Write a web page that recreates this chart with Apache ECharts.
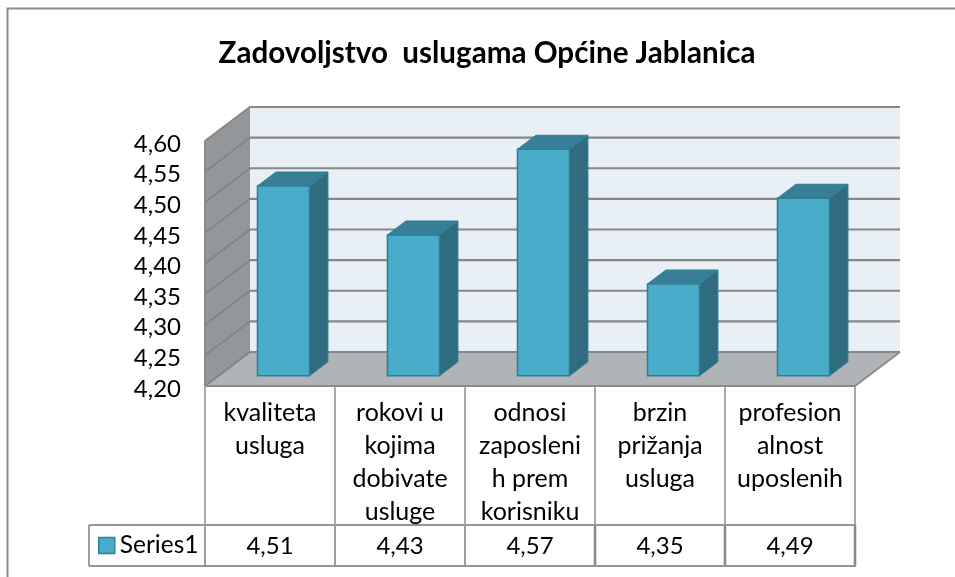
<!DOCTYPE html>
<html><head><meta charset="utf-8">
<style>html,body{margin:0;padding:0;background:#fff}#c{width:955px;height:577px}</style>
<script src="https://cdn.jsdelivr.net/npm/echarts@6/dist/echarts.min.js"></script>
</head><body><div id="c"></div>
<script>
const titleText = 'Zadovoljstvo  uslugama Općine Jablanica';
const seriesName = 'Series1';
const categories = ['kvaliteta\nusluga','rokovi u\nkojima\ndobivate\nusluge','odnosi\nzaposleni\nh prem\nkorisniku','brzin\nprižanja\nusluga','profesion\nalnost\nuposlenih'];
const values = [4.51,4.43,4.57,4.35,4.49];
const yTicks = [4.20,4.25,4.30,4.35,4.40,4.45,4.50,4.55,4.60];
const FONT = 'Lato, Carlito, "Open Sans", sans-serif';
const fmt = v => v.toFixed(2).replace('.', ',');

const DX = 45, DY = -34;           // depth vector of the floor
const D0 = 0.30, D1 = 0.71;        // bar depth range
const BAND = 0.40;                 // bar width as share of a category (front)
const TABLE_MID = 525, TABLE_BOT = 566, LEGEND_L = 89;

const chart = echarts.init(document.getElementById('c'));

function shift(p, d){ return [p[0] + DX*d, p[1] + DY*d]; }
function poly(pts, fill, stroke, w){
  return {type:'polygon', shape:{points:pts}, style:{fill:fill, stroke:stroke||null, lineWidth:w||0}};
}
function line(a,b,c,w){
  return {type:'line', shape:{x1:a[0],y1:a[1],x2:b[0],y2:b[1]}, style:{stroke:c,lineWidth:w}};
}

const wallsData = [0];
function renderWalls(params, api){
  const g = params.coordSys;
  const L = g.x, R = g.x + g.width;
  const yb = api.coord([0, yTicks[0]])[1], yt = api.coord([0, yTicks[yTicks.length-1]])[1];
  const ch = [];
  const FL=[L,yb], FR=[R,yb], TL=[L,yt];
  const BL=shift(FL,1), BR=shift(FR,1), TBL=shift(TL,1);
  ch.push(poly([TBL,[BR[0],TBL[1]],BR,BL],'#e8eff5'));
  ch.push(poly([FL,FR,BR,BL],'#b0b4b7'));
  ch.push(poly([FL,TL,TBL,BL],'#94979a'));
  yTicks.forEach(t=>{
    const y = api.coord([0,t])[1];
    ch.push(line([L,y],shift([L,y],1),'#808386',1.6));
    const by = shift([L,y],1);
    ch.push(line(by,[BR[0],by[1]],'#878787',2.2));
  });
  ch.push(line(FL,FR,'#8b8b8b',2));
  ch.push(line(FR,BR,'#8b8b8b',2));
  ch.push(line(FL,TL,'#8b8b8b',2));
  ch.push(line(TL,shift(TL,1),'#8b8b8b',1.6));
  return {type:'group',children:ch};
}

function renderBar(params, api){
  const i = api.value(0), v = api.value(1);
  const cw = api.size([1,0])[0];
  const c = api.coord([i, yTicks[0]]);
  const top0 = api.coord([i, v])[1];
  const hw = cw*BAND/2;
  const x0 = c[0]-hw, x1 = c[0]+hw, yb = c[1];
  const A = shift([x0,yb],D0), B = shift([x1,yb],D0), C = shift([x1,top0],D0), E = shift([x0,top0],D0);
  const dd = D1-D0;
  const B2 = shift(B,dd), C2 = shift(C,dd), E2 = shift(E,dd);
  const edge='#2f7f97';
  return {type:'group',children:[
    poly([B,C,C2,B2],'#2f6c7f',edge,1),
    poly([E,C,C2,E2],'#367f97',edge,1),
    poly([A,B,C,E],'#49acc9',edge,1.6)
  ]};
}

function renderTable(params, api){
  const g = params.coordSys;
  const L = g.x, R = g.x+g.width, yb = g.y+g.height;
  const cw = g.width/categories.length;
  const col='#959595', ch=[];
  for(let i=0;i<=categories.length;i++){
    const x=L+i*cw;
    ch.push(line([x,yb],[x,TABLE_MID],col,1.6));
    ch.push(line([x,TABLE_MID],[x,TABLE_BOT],i>=3?'#8a8a8a':col,i>=3?2.6:1.8));
  }
  ch.push(line([LEGEND_L,TABLE_MID],[R+1,TABLE_MID],col,2));
  ch.push(line([LEGEND_L,TABLE_BOT],[R+1,TABLE_BOT],col,2));
  ch.push(line([LEGEND_L,TABLE_MID],[LEGEND_L,TABLE_BOT],col,1.8));
  return {type:'group',children:ch};
}

function renderValues(params, api){
  const i = api.value(0), v = api.value(1);
  const x = api.coord([i, yTicks[0]])[0];
  return {type:'text',style:{text:fmt(v),x:x,y:(TABLE_MID+TABLE_BOT)/2+1,align:'center',verticalAlign:'middle',font:'24px '+FONT,fill:'#000'}};
}

chart.setOption({
  animation:false,
  backgroundColor:'#fff',
  title:{text:titleText,left:482,top:33,textAlign:'center',textStyle:{fontFamily:FONT,fontSize:29.6,fontWeight:'bold',color:'#000'}},
  legend:{data:[{name:seriesName,icon:'rect'}],left:93,top:528,itemWidth:16,itemHeight:16,itemGap:5,padding:[5,5,5,5],
    textStyle:{fontFamily:FONT,fontSize:24.5,color:'#000'},
    itemStyle:{color:'#49acc9',borderColor:'#2f7f97',borderWidth:1.5}},
  grid:{left:205,top:141,width:650,height:245},
  xAxis:{type:'category',data:categories,
    axisLine:{show:false},axisTick:{show:false},
    axisLabel:{interval:0,margin:10,lineHeight:33,fontFamily:FONT,fontSize:25,color:'#000',verticalAlign:'top'}},
  yAxis:{type:'value',min:4.2,max:4.6,interval:0.05,
    axisLine:{show:false},axisTick:{show:false},splitLine:{show:false},
    axisLabel:{margin:24,verticalAlign:'top',lineHeight:6,fontFamily:FONT,fontSize:24,color:'#000',formatter:v=>fmt(v)}},
  series:[
    {type:'custom',silent:true,coordinateSystem:'cartesian2d',renderItem:renderWalls,data:wallsData,encode:{x:0,y:0},z:1,clip:false},
    {type:'custom',silent:true,renderItem:renderTable,data:wallsData,z:1,clip:false,encode:{x:0,y:0}},
    {name:seriesName,type:'custom',renderItem:renderBar,data:values.map((v,i)=>[i,v]),encode:{x:0,y:1},z:3,clip:false,itemStyle:{color:'#49acc9'}},
    {type:'custom',silent:true,renderItem:renderValues,data:values.map((v,i)=>[i,v]),encode:{x:0,y:1},z:4,clip:false}
  ],
  graphic:[
    {type:'polyline',z:0,shape:{points:[[7.5,577],[7.5,8.5],[955,8.5]]},style:{stroke:'#8c8c8c',lineWidth:2,fill:null}}
  ]
});
</script></body></html>
